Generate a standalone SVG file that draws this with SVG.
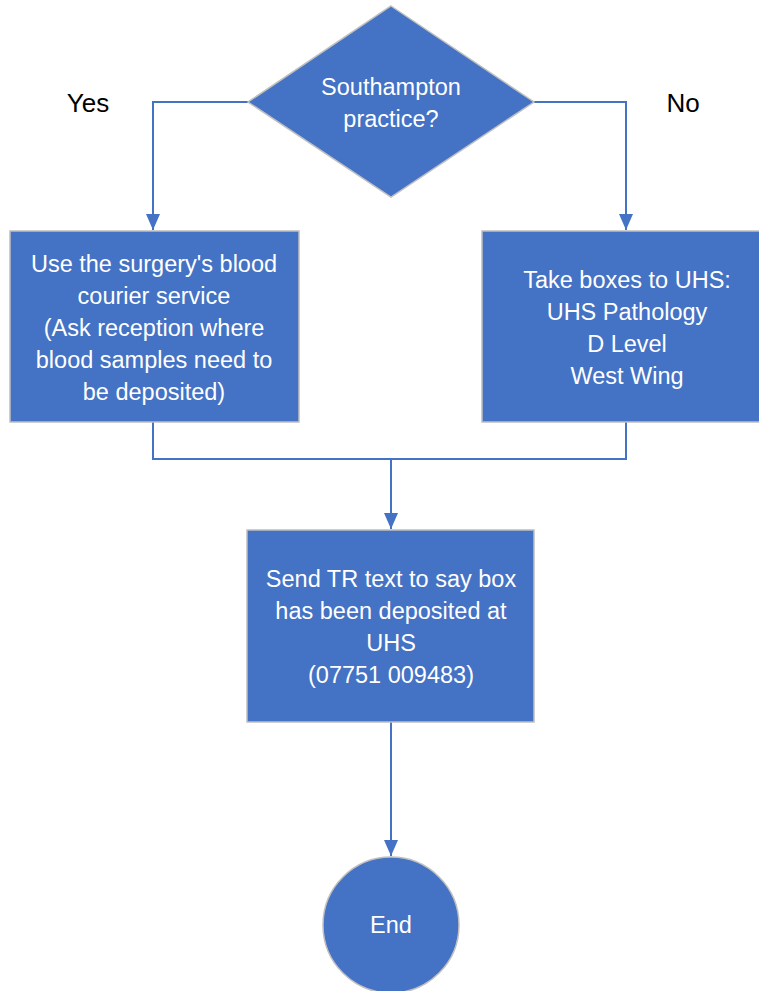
<svg xmlns="http://www.w3.org/2000/svg" width="759" height="991" viewBox="0 0 759 991">
<defs>
<style>
.n{fill:#4472C4;stroke:#BFBFBF;stroke-width:1.5}
.t{fill:#FFFFFF;font-family:"Liberation Sans",Arial,sans-serif;font-size:23.5px;text-anchor:middle}
.l{fill:#000000;font-family:"Liberation Sans",Arial,sans-serif;font-size:26px;text-anchor:middle}
.c{fill:none;stroke:#4472C4;stroke-width:2}
</style>
<marker id="ah" markerWidth="16" markerHeight="14" refX="16" refY="7" orient="auto" markerUnits="userSpaceOnUse" viewBox="0 0 16 14">
<path d="M0,0 L16,7 L0,14 z" fill="#4472C4"/>
</marker>
</defs>
<rect width="759" height="991" fill="#FFFFFF"/>
<g id="connectors">
<polyline class="c" points="248,102 153,102 153,230" marker-end="url(#ah)"/>
<polyline class="c" points="534,102 626,102 626,230" marker-end="url(#ah)"/>
<polyline class="c" points="153,422 153,459 626,459 626,422"/>
<line class="c" x1="391" y1="459" x2="391" y2="529" marker-end="url(#ah)"/>
<line class="c" x1="391" y1="722" x2="391" y2="856" marker-end="url(#ah)"/>
</g>
<g id="decision">
<polygon class="n" points="391,6 534,102 391,197 248,102"/>
<text class="t" x="391" y="95">Southampton</text>
<text class="t" x="391" y="127">practice?</text>
</g>
<g id="label-yes"><text class="l" x="88" y="112">Yes</text></g>
<g id="label-no"><text class="l" x="683" y="112">No</text></g>
<g id="courier">
<rect class="n" x="10" y="231" width="289" height="191"/>
<text class="t" x="154" y="272">Use the surgery's blood</text>
<text class="t" x="154" y="304">courier service</text>
<text class="t" x="154" y="336">(Ask reception where</text>
<text class="t" x="154" y="368">blood samples need to</text>
<text class="t" x="154" y="400">be deposited)</text>
</g>
<g id="uhs">
<rect class="n" x="482" y="231" width="290" height="191"/>
<text class="t" x="627" y="288">Take boxes to UHS:</text>
<text class="t" x="627" y="320">UHS Pathology</text>
<text class="t" x="627" y="352">D Level</text>
<text class="t" x="627" y="384">West Wing</text>
</g>
<g id="text-tr">
<rect class="n" x="247" y="530" width="287" height="192"/>
<text class="t" x="391" y="587">Send TR text to say box</text>
<text class="t" x="391" y="619">has been deposited at</text>
<text class="t" x="391" y="651">UHS</text>
<text class="t" x="391" y="683">(07751 009483)</text>
</g>
<g id="end">
<circle class="n" cx="391" cy="925" r="68"/>
<text class="t" x="391" y="933">End</text>
</g>
</svg>
